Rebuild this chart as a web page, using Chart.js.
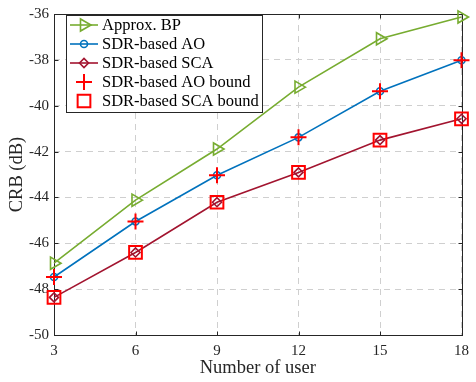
<!DOCTYPE html>
<html>
<head>
<meta charset="utf-8">
<script src="https://cdn.jsdelivr.net/npm/chart.js@4.4.1/dist/chart.umd.min.js"></script>
<style>
  html, body { margin: 0; padding: 0; background: #fff; }
  #wrap { width: 476px; height: 382px; }
</style>
</head>
<body>
<div id="wrap"><canvas id="myChart" width="476" height="382"></canvas></div>
<script>
// number of users on the x axis
const users = [3, 6, 9, 12, 15, 18];
// CRB values (dB)
const approxBP = [-46.87, -44.12, -41.89, -39.19, -37.08, -36.13];
const sdrAO = [-47.47, -45.05, -43.03, -41.38, -39.37, -38.02];
const sdrSCA = [-48.36, -46.40, -44.21, -42.91, -41.50, -40.57];
const sdrAOBound = [-47.47, -45.05, -43.03, -41.38, -39.37, -38.02];
const sdrSCABound = [-48.36, -46.40, -44.21, -42.91, -41.50, -40.57];
const seriesNames = ["Approx. BP", "SDR-based AO", "SDR-based SCA", "SDR-based AO bound", "SDR-based SCA bound"];
const yTicks = [-50, -48, -46, -44, -42, -40, -38, -36];

const serif = "'Liberation Serif', 'DejaVu Serif', serif";

function toPoints(vals) {
    return users.map((u, i) => ({ x: u, y: vals[i] }));
}

// box round the plot area, with small inward ticks
const frame = {
    id: "frame",
    beforeDatasetsDraw(chart) {
        const a = chart.chartArea;
        const ctx = chart.ctx;
        const xs = chart.scales.x, ys = chart.scales.y;
        ctx.save();
        ctx.strokeStyle = "#262626";
        ctx.lineWidth = 1;
        const l = Math.round(a.left) + 0.5, t = Math.round(a.top) + 0.5;
        const r = Math.round(a.right) + 0.5, b = Math.round(a.bottom) + 0.5;
        ctx.strokeRect(l, t, r - l, b - t);
        ctx.beginPath();
        users.forEach((u) => {
            const px = Math.round(xs.getPixelForValue(u)) + 0.5;
            ctx.moveTo(px, b); ctx.lineTo(px, b - 4);
            ctx.moveTo(px, t); ctx.lineTo(px, t + 4);
        });
        yTicks.forEach((v) => {
            const py = Math.round(ys.getPixelForValue(v)) + 0.5;
            ctx.moveTo(l, py); ctx.lineTo(l + 4, py);
            ctx.moveTo(r, py); ctx.lineTo(r - 4, py);
        });
        ctx.stroke();
        ctx.restore();
    }
};

// matlab style legend inside the axes
const boxLegend = {
    id: "boxLegend",
    afterDraw(chart) {
        const ctx = chart.ctx;
        const x0 = 66, y0 = 15, w = 196, h = 97;
        ctx.save();
        ctx.fillStyle = "#fff";
        ctx.fillRect(x0, y0, w, h);
        ctx.strokeStyle = "#262626";
        ctx.lineWidth = 1;
        ctx.strokeRect(x0 + 0.5, y0 + 0.5, w, h);
        ctx.font = "16.5px " + serif;
        ctx.textBaseline = "middle";
        chart.data.datasets.forEach((ds, i) => {
            const y = y0 + 10 + i * 19;
            if (ds.showLine !== false) {
                ctx.strokeStyle = ds.borderColor;
                ctx.lineWidth = ds.borderWidth;
                ctx.beginPath();
                ctx.moveTo(x0 + 4, y);
                ctx.lineTo(x0 + 32, y);
                ctx.stroke();
            }
            ctx.strokeStyle = ds.pointBorderColor;
            ctx.fillStyle = "rgba(0,0,0,0)";
            ctx.lineWidth = ds.pointBorderWidth;
            Chart.helpers.drawPoint(ctx, {
                pointStyle: ds.pointStyle,
                rotation: ds.pointRotation || 0,
                radius: ds.pointRadius,
                borderWidth: ds.pointBorderWidth
            }, x0 + 18, y);
            ctx.fillStyle = "#000";
            ctx.fillText(ds.label, x0 + 36, y + 1);
        });
        ctx.restore();
    }
};

new Chart("myChart", {
    type: "line",
    data: {
        datasets: [{
            label: seriesNames[0],
            data: toPoints(approxBP),
            borderColor: "#77AC30",
            borderWidth: 1.6,
            pointStyle: "triangle",
            pointRotation: 90,
            pointRadius: 7,
            pointBorderColor: "#77AC30",
            pointBorderWidth: 1.6,
            pointBackgroundColor: "rgba(0,0,0,0)",
            clip: false,
            order: 1
        }, {
            label: seriesNames[1],
            data: toPoints(sdrAO),
            borderColor: "#0072BD",
            borderWidth: 1.6,
            pointStyle: "circle",
            pointRadius: 3.5,
            pointBorderColor: "#0072BD",
            pointBorderWidth: 1.6,
            pointBackgroundColor: "rgba(0,0,0,0)",
            clip: false,
            order: 1
        }, {
            label: seriesNames[2],
            data: toPoints(sdrSCA),
            borderColor: "#A2142F",
            borderWidth: 1.6,
            pointStyle: "rectRot",
            pointRadius: 4.5,
            pointBorderColor: "#A2142F",
            pointBorderWidth: 1.6,
            pointBackgroundColor: "rgba(0,0,0,0)",
            clip: false,
            order: 1
        }, {
            label: seriesNames[3],
            data: toPoints(sdrAOBound),
            showLine: false,
            borderColor: "#FF0000",
            borderWidth: 1.6,
            pointStyle: "cross",
            pointRadius: 8,
            pointBorderColor: "#FF0000",
            pointBorderWidth: 2,
            clip: false,
            order: 0
        }, {
            label: seriesNames[4],
            data: toPoints(sdrSCABound),
            showLine: false,
            borderColor: "#FF0000",
            borderWidth: 1.6,
            pointStyle: "rect",
            pointRadius: 9,
            pointBorderColor: "#FF0000",
            pointBorderWidth: 2,
            pointBackgroundColor: "rgba(0,0,0,0)",
            clip: false,
            order: 0
        }]
    },
    options: {
        responsive: false,
        animation: false,
        events: [],
        layout: { padding: { top: 7, right: 7, left: 0, bottom: 0 } },
        plugins: {
            legend: { display: false },
            tooltip: { enabled: false }
        },
        scales: {
            x: {
                type: "linear",
                min: 3,
                max: 18,
                afterFit: (scale) => { scale.height = 47; },
                afterBuildTicks: (scale) => { scale.ticks = users.map(v => ({ value: v })); },
                grid: { color: "#cfcfcf", lineWidth: 1, drawTicks: false },
                border: { display: false, dash: [6, 5] },
                ticks: {
                    color: "#262626",
                    padding: 7,
                    maxRotation: 0,
                    font: { family: serif, size: 15 }
                },
                title: {
                    display: true,
                    text: "Number of user",
                    color: "#262626",
                    padding: { top: 0, bottom: 3 },
                    font: { family: serif, size: 18.5 }
                }
            },
            y: {
                min: -50,
                max: -36,
                afterFit: (scale) => { scale.width = 54; },
                afterBuildTicks: (scale) => { scale.ticks = yTicks.map(v => ({ value: v })); },
                grid: { color: "#cfcfcf", lineWidth: 1, drawTicks: false },
                border: { display: false, dash: [6, 5] },
                ticks: {
                    color: "#262626",
                    padding: 5,
                    font: { family: serif, size: 15 }
                },
                title: {
                    display: true,
                    text: "CRB (dB)",
                    color: "#262626",
                    padding: { top: 6, bottom: 0 },
                    font: { family: serif, size: 18.5 }
                }
            }
        }
    },
    plugins: [frame, boxLegend]
});
</script>
</body>
</html>
